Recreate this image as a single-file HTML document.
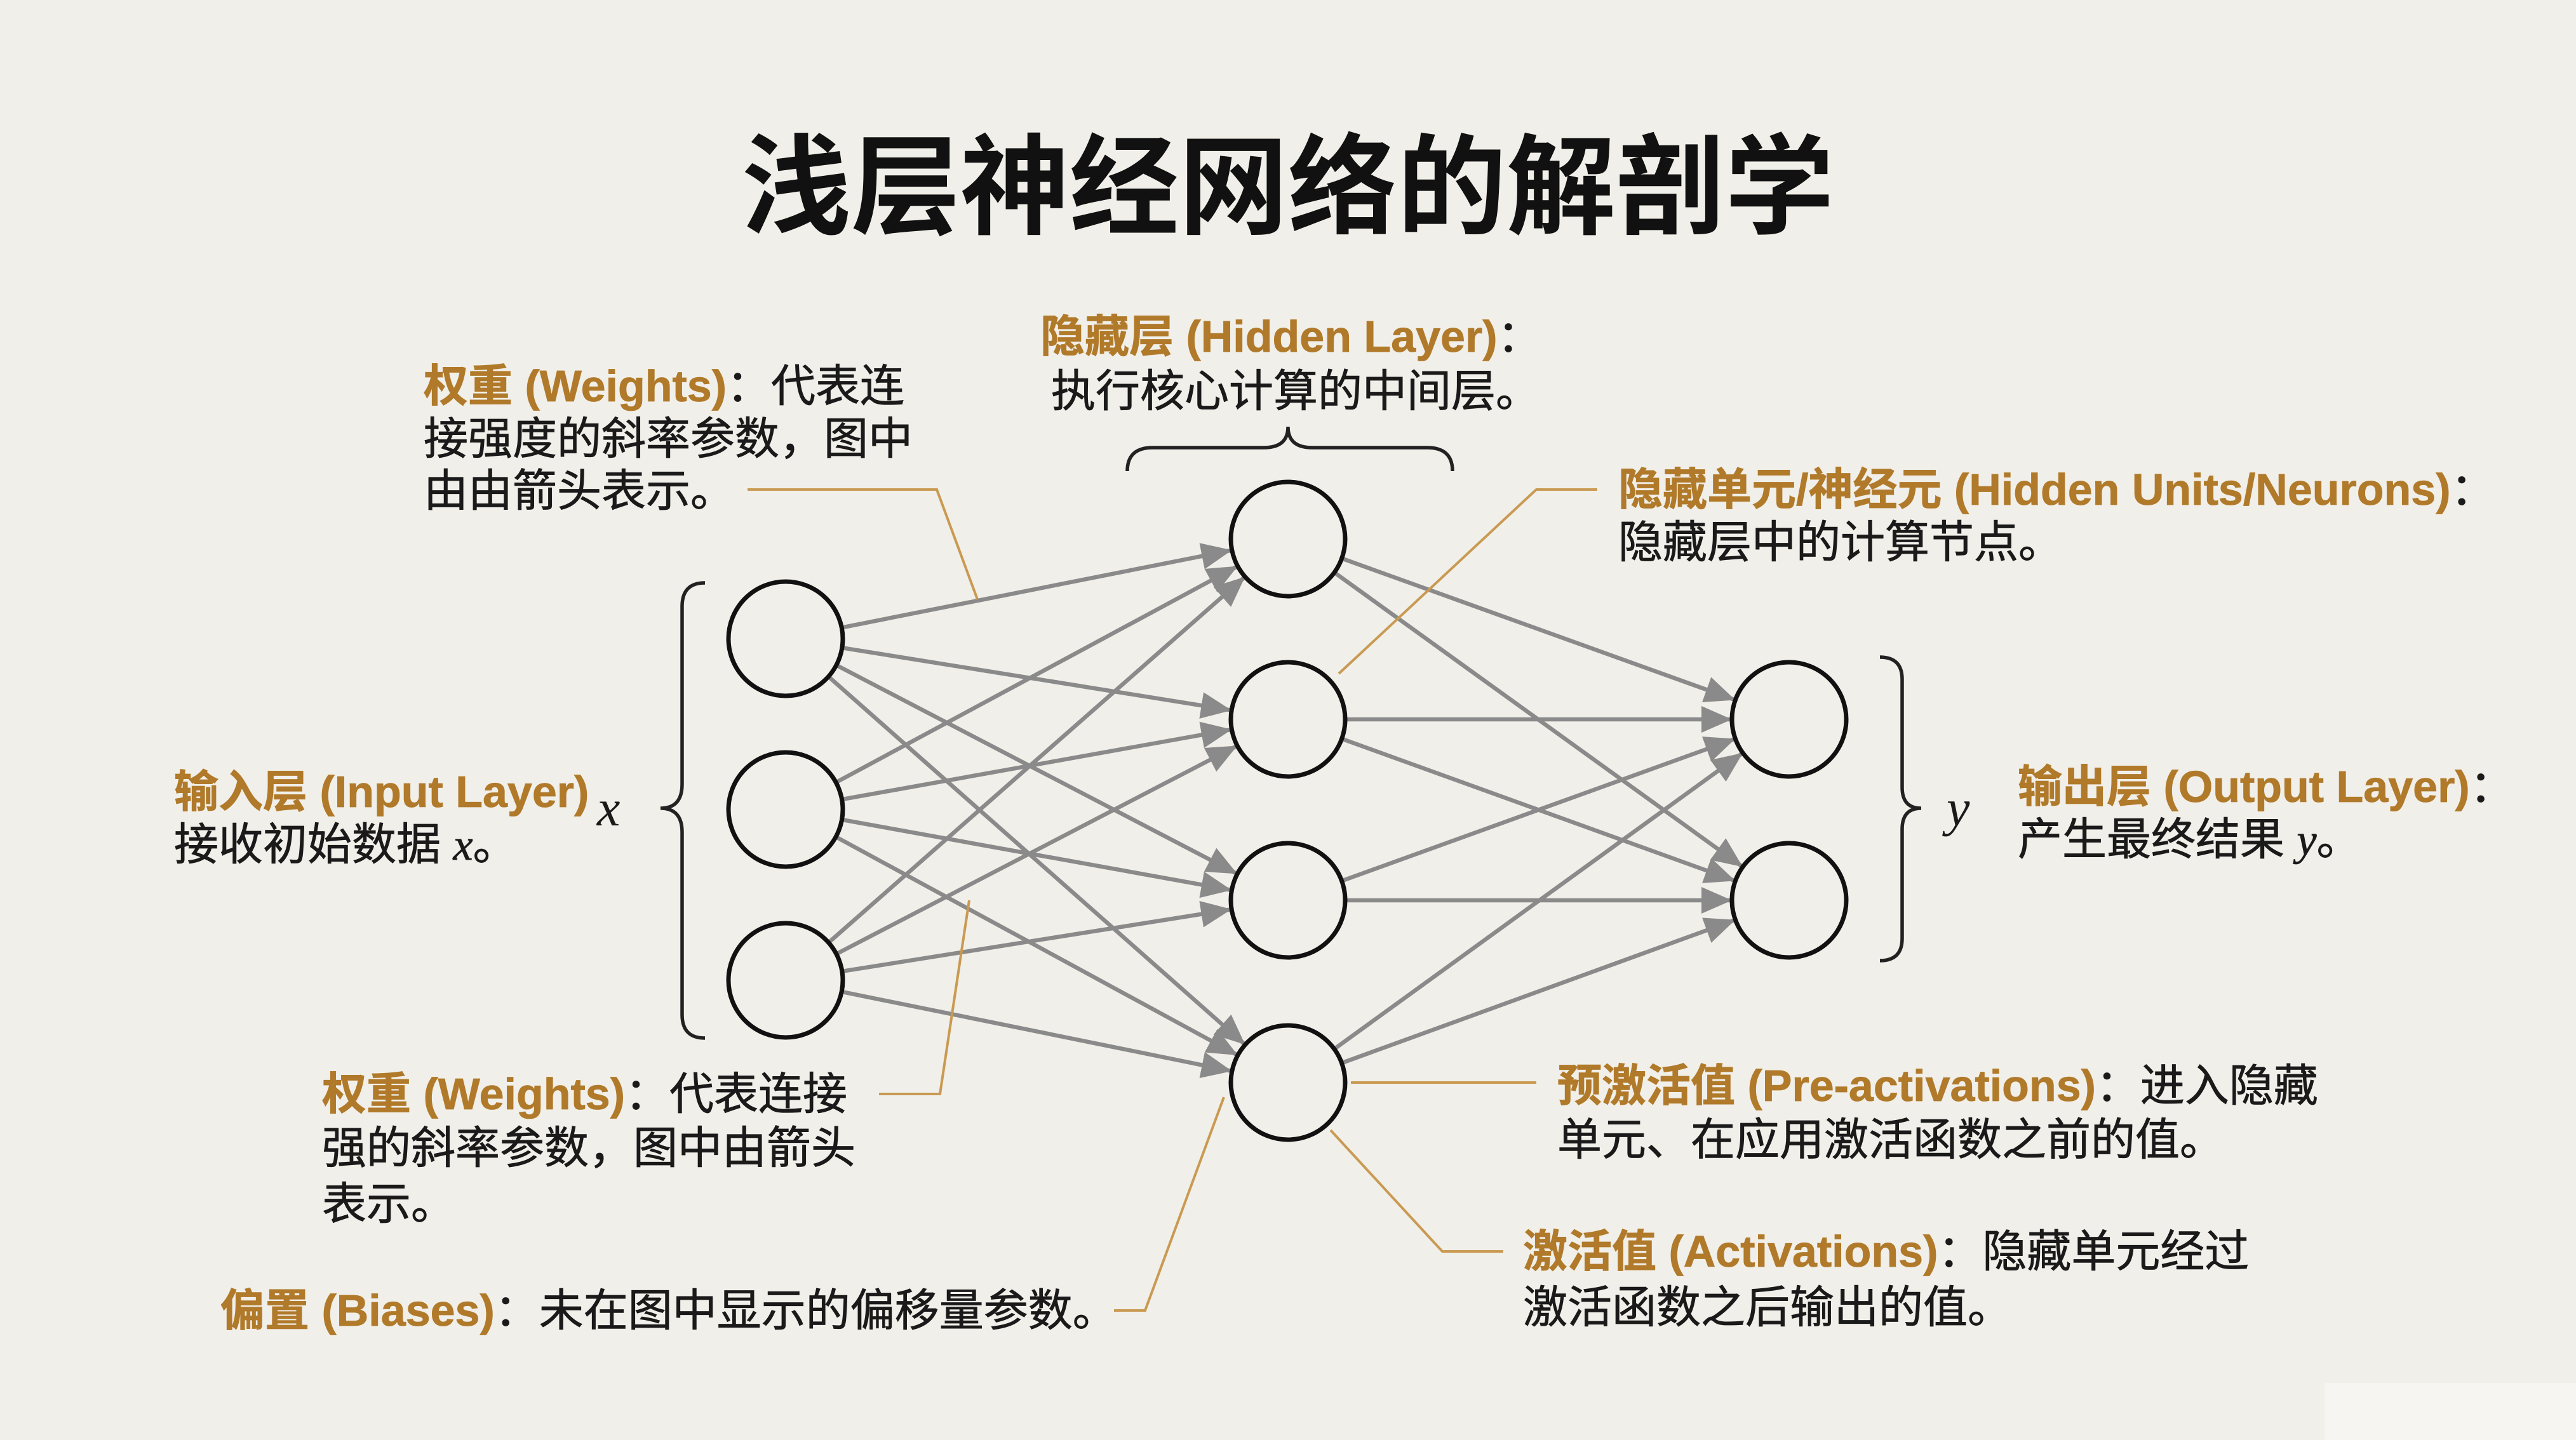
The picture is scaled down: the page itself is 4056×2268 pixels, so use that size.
<!DOCTYPE html>
<html><head><meta charset="utf-8"><style>
html,body{margin:0;padding:0;background:#f1efe9;}
svg{display:block;}
text{font-family:"Liberation Sans","Noto Sans CJK SC",sans-serif;fill:#1a1a1a;font-size:70px;}
.o{fill:#b07a2a;font-weight:bold;}
.m{font-family:"Liberation Serif","DejaVu Serif",serif;font-style:italic;}
</style></head><body>
<svg width="4056" height="2268" viewBox="0 0 4056 2268" xmlns="http://www.w3.org/2000/svg">
<defs>
<marker id="a" markerUnits="userSpaceOnUse" viewBox="-140 -25 140 50" markerWidth="140" markerHeight="50" refX="0" refY="0" orient="auto" overflow="visible">
<path d="M-90,0 L-138,-21 L-138,21 Z" fill="#8a8a8a"/>
</marker>
</defs>
<rect width="4056" height="2268" fill="#f1efe9"/>
<rect x="3660" y="2178" width="396" height="90" fill="#f6f5f1"/>
<text x="2028" y="355" text-anchor="middle" style="font-size:172px;font-weight:bold;fill:#111">浅层神经网络的解剖学</text>

<g stroke="#8a8a8a" stroke-width="6.5" marker-end="url(#a)">
<line x1="1237" y1="1006" x2="2028" y2="849"/><line x1="1237" y1="1006" x2="2028" y2="1133"/><line x1="1237" y1="1006" x2="2028" y2="1418"/><line x1="1237" y1="1006" x2="2028" y2="1705"/>
<line x1="1237" y1="1275" x2="2028" y2="849"/><line x1="1237" y1="1275" x2="2028" y2="1133"/><line x1="1237" y1="1275" x2="2028" y2="1418"/><line x1="1237" y1="1275" x2="2028" y2="1705"/>
<line x1="1237" y1="1544" x2="2028" y2="849"/><line x1="1237" y1="1544" x2="2028" y2="1133"/><line x1="1237" y1="1544" x2="2028" y2="1418"/><line x1="1237" y1="1544" x2="2028" y2="1705"/>
<line x1="2028" y1="849" x2="2817" y2="1133"/><line x1="2028" y1="849" x2="2817" y2="1418"/>
<line x1="2028" y1="1133" x2="2817" y2="1133"/><line x1="2028" y1="1133" x2="2817" y2="1418"/>
<line x1="2028" y1="1418" x2="2817" y2="1133"/><line x1="2028" y1="1418" x2="2817" y2="1418"/>
<line x1="2028" y1="1705" x2="2817" y2="1133"/><line x1="2028" y1="1705" x2="2817" y2="1418"/>
</g>

<g fill="#f1efe9" stroke="#111" stroke-width="7">
<circle cx="1237" cy="1006" r="90"/><circle cx="1237" cy="1275" r="90"/><circle cx="1237" cy="1544" r="90"/>
<circle cx="2028" cy="849" r="90"/><circle cx="2028" cy="1133" r="90"/><circle cx="2028" cy="1418" r="90"/><circle cx="2028" cy="1705" r="90"/>
<circle cx="2817" cy="1133" r="90"/><circle cx="2817" cy="1418" r="90"/>
</g>

<g fill="none" stroke="#222" stroke-width="5.5">
<path d="M1110,918 Q1074,918 1074,955 L1074,1235 Q1074,1273 1040,1273 Q1074,1273 1074,1311 L1074,1598 Q1074,1635 1110,1635"/>
<path d="M2960,1035 Q2995,1035 2995,1070 L2995,1240 Q2995,1273 3025,1273 Q2995,1273 2995,1306 L2995,1478 Q2995,1513 2960,1513"/>
<path d="M1775,742 Q1775,705 1815,705 L1990,705 Q2028,705 2028,672 Q2028,705 2066,705 L2247,705 Q2287,705 2287,742"/>
</g>
<text class="m" x="940" y="1300" style="font-size:82px">x</text>
<text class="m" x="3065" y="1300" style="font-size:82px">y</text>

<g fill="none" stroke="#c99a52" stroke-width="4">
<polyline points="1177,771 1475,771 1539,944"/>
<polyline points="2108,1061 2419,771 2515,771"/>
<polyline points="1384,1723 1480,1723 1526,1418"/>
<polyline points="1754,2064 1803,2064 1927,1728"/>
<polyline points="2127,1705 2419,1705"/>
<polyline points="2095,1780 2271,1971 2367,1971"/>
</g>

<g style="stroke:#1a1a1a;stroke-width:0.8">
<text x="667" y="632"><tspan class="o" style="stroke:#b07a2a">权重 (Weights)</tspan>：代表连</text>
<text x="667" y="715">接强度的斜率参数，图中</text>
<text x="667" y="797">由由箭头表示。</text>

<text x="1638" y="554"><tspan class="o" style="stroke:#b07a2a">隐藏层 (Hidden Layer)</tspan>：</text>
<text x="1655" y="640">执行核心计算的中间层。</text>

<text x="2548" y="795"><tspan class="o" style="stroke:#b07a2a">隐藏单元/神经元 (Hidden Units/Neurons)</tspan>：</text>
<text x="2548" y="878">隐藏层中的计算节点。</text>

<text x="274" y="1271"><tspan class="o" style="stroke:#b07a2a">输入层 (Input Layer)</tspan></text>
<text x="274" y="1354">接收初始数据 <tspan class="m">x</tspan>。</text>

<text x="3177" y="1263"><tspan class="o" style="stroke:#b07a2a">输出层 (Output Layer)</tspan>：</text>
<text x="3177" y="1346">产生最终结果 <tspan class="m">y</tspan>。</text>

<text x="507" y="1747"><tspan class="o" style="stroke:#b07a2a">权重 (Weights)</tspan>：代表连接</text>
<text x="507" y="1832">强的斜率参数，图中由箭头</text>
<text x="507" y="1920">表示。</text>

<text x="347" y="2088"><tspan class="o" style="stroke:#b07a2a">偏置 (Biases)</tspan>：未在图中显示的偏移量参数。</text>

<text x="2452" y="1734"><tspan class="o" style="stroke:#b07a2a">预激活值 (Pre-activations)</tspan>：进入隐藏</text>
<text x="2452" y="1819">单元、在应用激活函数之前的值。</text>

<text x="2398" y="1995"><tspan class="o" style="stroke:#b07a2a">激活值 (Activations)</tspan>：隐藏单元经过</text>
<text x="2398" y="2083">激活函数之后输出的值。</text>
</g>
</svg>
</body></html>
